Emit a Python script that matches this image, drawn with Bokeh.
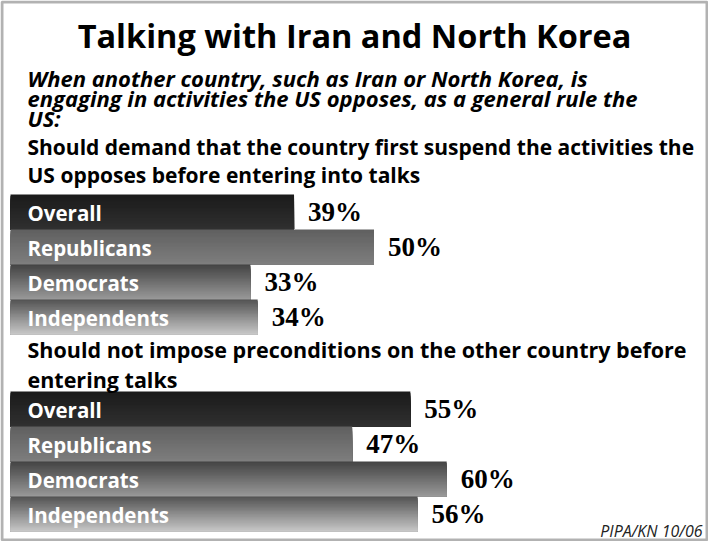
from bokeh.plotting import figure
from bokeh.models import Range1d, Label, ColumnDataSource, BoxAnnotation
from bokeh.embed import file_html
from bokeh.resources import INLINE
from bokeh.core.properties import value

# ---------------- data ----------------
title_text = "Talking with Iran and North Korea"
intro_lines = [
    "When another country, such as Iran or North Korea, is",
    "engaging in activities the US opposes, as a general rule the",
    "US:",
]
q1_lines = [
    "Should demand that the country first suspend the activities the",
    "US opposes before entering into talks",
]
q2_lines = [
    "Should not impose preconditions on the other country before",
    "entering talks",
]
groups = ["Overall", "Republicans", "Democrats", "Independents"]
demand_first = [39, 50, 33, 34]
no_preconditions = [55, 47, 60, 56]
source_note = "PIPA/KN 10/06"

# ---------------- layout / style ----------------
W, H = 708, 541
PX_PER_PCT = 7.27
BAR_LEFT = 10          # px from figure left where 0% sits
ROW_H = 35
G1_TOP, G2_TOP = 194, 391
SANS = "Open Sans"
SERIF = "Liberation Serif"
# grey level (top, bottom) of each bar's vertical gradient
GRAD = {
    "Overall": (0x1b, 0x30),
    "Republicans": (0x60, 0x7e),
    "Democrats": (0x45, 0x98),
    "Independents": (0x55, 0xc6),
}
N_STRIPS = 24

p = figure(width=W, height=H, output_backend="svg", toolbar_location=None,
           min_border=0, x_axis_location=None, y_axis_location=None,
           x_range=Range1d(0, W), y_range=Range1d(H, 0))
p.extra_x_ranges = {"pct": Range1d(-BAR_LEFT / PX_PER_PCT, (W - BAR_LEFT) / PX_PER_PCT)}
p.grid.visible = False
p.outline_line_color = None
p.background_fill_color = "white"
p.border_fill_color = "white"

# frame
p.add_layout(BoxAnnotation(left=1.5, right=W - 1.5, top=1.5, bottom=H - 1.5,
                           fill_alpha=0, line_color="black", line_width=3))


def add_text(x, y, text, size, style="bold", align="left", font=SANS, color="black"):
    p.add_layout(Label(x=x, y=y, text=text, text_font=font, text_font_size=size,
                       text_font_style=style, text_align=align, text_baseline="middle",
                       text_color=color))


add_text(W / 2, 35, title_text, "32.5px", align="center")
for i, t in enumerate(intro_lines):
    add_text(27, 77 + i * 20, t, "22px", style="bold italic")
for i, t in enumerate(q1_lines):
    add_text(27, 146 + i * 28, t, "21px")
for i, t in enumerate(q2_lines):
    add_text(27, 349 + i * 30, t, "21.5px")
add_text(702, 530, source_note, "16px", style="italic", align="right", color="#222222")


def hexgrey(v):
    v = int(round(v))
    return "#%02x%02x%02x" % (v, v, v)


def draw_group(values, top0):
    left, right, tops, bottoms, colors = [], [], [], [], []
    centers = []
    for i, (g, v) in enumerate(zip(groups, values)):
        t = top0 + i * ROW_H
        b = t + ROW_H
        centers.append(t + ROW_H / 2)
        c0, c1 = GRAD[g]
        for j in range(N_STRIPS):
            f = j / (N_STRIPS - 1)
            left.append(0)
            right.append(v)
            tops.append(t + j * ROW_H / N_STRIPS)
            bottoms.append(b)
            colors.append(hexgrey(c0 + (c1 - c0) * f))
    src = ColumnDataSource(dict(left=left, right=right, top=tops, bottom=bottoms, color=colors))
    p.quad(left="left", right="right", top="top", bottom="bottom", fill_color="color",
           line_color=None, source=src, x_range_name="pct")
    lab = ColumnDataSource(dict(x=[0] * len(groups), y=[c + 1 for c in centers], text=groups))
    p.text(x="x", y="y", text="text", source=lab, x_range_name="pct", x_offset=17,
           text_color="white", text_font=value(SANS), text_font_style="bold",
           text_font_size="20.5px", text_baseline="middle")
    vals = ColumnDataSource(dict(x=values, y=centers, text=["%d%%" % v for v in values]))
    p.text(x="x", y="y", text="text", source=vals, x_range_name="pct", x_offset=14,
           text_color="black", text_font=value(SERIF), text_font_style="bold",
           text_font_size="27px", text_baseline="middle")


draw_group(demand_first, G1_TOP)
draw_group(no_preconditions, G2_TOP)

open("out.html", "w").write(file_html(p, INLINE))
